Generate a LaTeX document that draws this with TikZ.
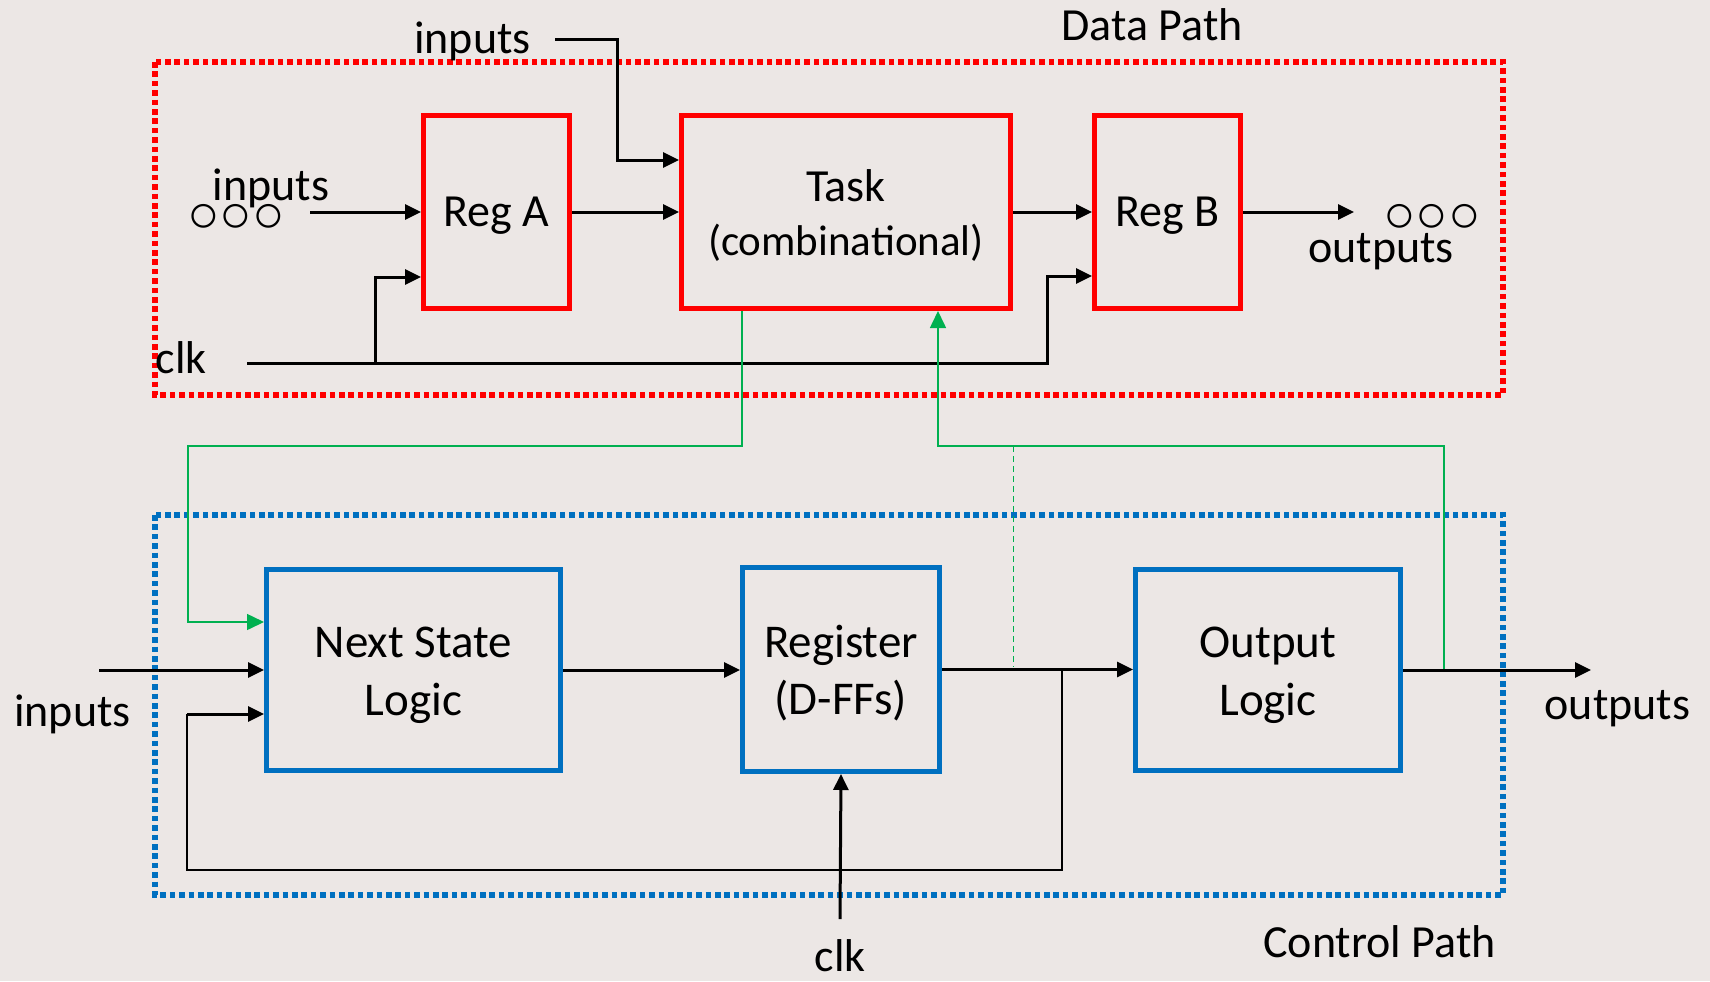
\documentclass[tikz,border=0pt]{standalone}
\usepackage{fontspec}
\setmainfont{Carlito}
\newfontfamily\symfont{Liberation Sans}
\usetikzlibrary{arrows.meta}
\definecolor{bg}{RGB}{236,231,229}
\definecolor{dpred}{RGB}{255,0,0}
\definecolor{cpblue}{RGB}{0,112,192}
\definecolor{sigreen}{RGB}{0,176,80}
\newcommand\myrstrut{\rule[-5.1pt]{0pt}{26.6pt}}
\newcommand\mybstrut{\rule[-6pt]{0pt}{28.6pt}}
\newcommand\mysstrut{\rule[-6pt]{0pt}{26.8pt}}
\begin{document}
\begin{tikzpicture}[x=0.5pt,y=-0.5pt,
  font=\fontsize{23}{27}\selectfont,
  blk/.style={draw, line width=2.5pt, inner sep=0pt, align=center},
  redblk/.style={blk, draw=dpred, font=\fontsize{23}{26.7}\selectfont},
  blueblk/.style={blk, draw=cpblue, font=\fontsize{23.5}{28.65}\selectfont},
  sig/.style={line width=1.5pt, -{Triangle[length=8pt,width=7.5pt]}},
  thinwire/.style={line width=0.8pt},
  gsig/.style={draw=sigreen, line width=0.8pt},
  garrow/.style={gsig, -{Triangle[length=8.5pt,width=8pt]}},
  lbl/.style={inner sep=0pt, anchor=base},
  dots/.style={inner sep=0pt, font=\symfont\fontsize{27}{30}\selectfont},
  dpbox/.style={draw=dpred, line width=2.6pt, dash pattern=on 2.8pt off 1.9pt},
  cpbox/.style={draw=cpblue, line width=2.6pt, dash pattern=on 2.8pt off 1.9pt}]

\fill[bg] (0,0) rectangle (1710,981);
\useasboundingbox (0,0) rectangle (1710,981);

% container boxes
\draw[dpbox] (155,62) rectangle (1503,395);
\draw[cpbox] (155,515) rectangle (1503,895);

% blocks
\node[redblk, minimum width=73pt, minimum height=96.5pt] (rega) at (496.5,212) {\mysstrut Reg A};
\node[redblk, minimum width=164.5pt, minimum height=96.5pt] (task) at (846,212) {\myrstrut Task\\\myrstrut{\fontsize{21.5}{26.7}\selectfont (combinational)}};
\node[redblk, minimum width=73pt, minimum height=96.5pt] (regb) at (1167.5,212) {\mysstrut Reg B};
\node[blueblk, minimum width=147pt, minimum height=100.5pt] (nsl) at (413.5,670) {\mybstrut Next State\\\mybstrut Logic};
\node[blueblk, minimum width=98.5pt, minimum height=102pt] (reg) at (841,669.5) {\mybstrut Register\\\mybstrut (D-FFs)};
\node[blueblk, minimum width=132.5pt, minimum height=100.5pt] (outl) at (1268,670) {\mybstrut Output\\\mybstrut Logic};

% labels
\node[lbl] (dplbl) at (1152,40) {Data Path};
\node[lbl] (intop) at (472.5,53) {inputs};
\node[lbl] (inA) at (271,200) {inputs};
\node[dots] (dotsA) at (236,218.5) {○○○};
\node[lbl] (clkA) at (181,373) {clk};
\node[dots] (dotsB) at (1432,218.5) {○○○};
\node[lbl] (outB) at (1381,262) {outputs};
\node[lbl] (inC) at (72.5,726) {inputs};
\node[lbl] (outC) at (1617.5,719) {outputs};
\node[lbl] (clkC) at (840,971) {clk};
\node[lbl] (cplbl) at (1379.5,957) {Control Path};

% free ends
\coordinate (intopend) at (555,39);
\coordinate (dAend) at (310,212);
\coordinate (clkAend) at (247,363);
\coordinate (clkjA) at (375,363);
\coordinate (clkjB) at (1047,363);
\coordinate (regbout) at (1354,212);
\coordinate (gcornerA) at (188,446);
\coordinate (gcornerB) at (938,446);
\coordinate (outtap) at (1444,670);
\coordinate (gdashtop) at (1013,446);
\coordinate (gdashbot) at (1013,667);
\coordinate (inCstart) at (99,670);
\coordinate (fbtap) at (1062,669.5);
\coordinate (fbcorner) at (187,870);
\coordinate (fbup) at (187,714);
\coordinate (outCend) at (1591,670);
\coordinate (clkCstart) at (840,919);

% data path connectors
\draw[sig] (intopend) -- (617,39) |- ([yshift=26pt]task.west);
\draw[sig] (dAend) -- (rega.west);
\draw[sig] (rega) -- (task);
\draw[sig] (task) -- (regb);
\draw[sig] (regb) -- (regbout);
\draw[sig] (clkAend) -- (clkjB) |- ([yshift=-32pt]regb.west);
\draw[sig] (clkjA) |- ([yshift=-32.5pt]rega.west);

% green status / control connectors
\draw[garrow] ([xshift=-52pt]task.south) |- (gcornerA) |- ([yshift=24pt]nsl.west);
\draw[garrow] (outtap) |- (gcornerB) -- ([xshift=46pt]task.south);
\draw[sigreen, line width=0.5pt, dash pattern=on 3pt off 2pt] (gdashtop) -- (gdashbot);

% control path connectors
\draw[sig] (inCstart) -- (nsl.west);
\draw[sig] (nsl.east) -- (nsl.east -| reg.west);
\draw[sig] (reg.east) -- (reg.east -| outl.west);
\draw[sig] (outl.east) -- (outCend);
\draw[sig] (clkCstart) -- (reg.south);
\draw[thinwire] (fbtap) |- (fbcorner) -- (fbup);
\draw[sig] (fbup) -- ([yshift=-22pt]nsl.west);
\end{tikzpicture}
\end{document}
